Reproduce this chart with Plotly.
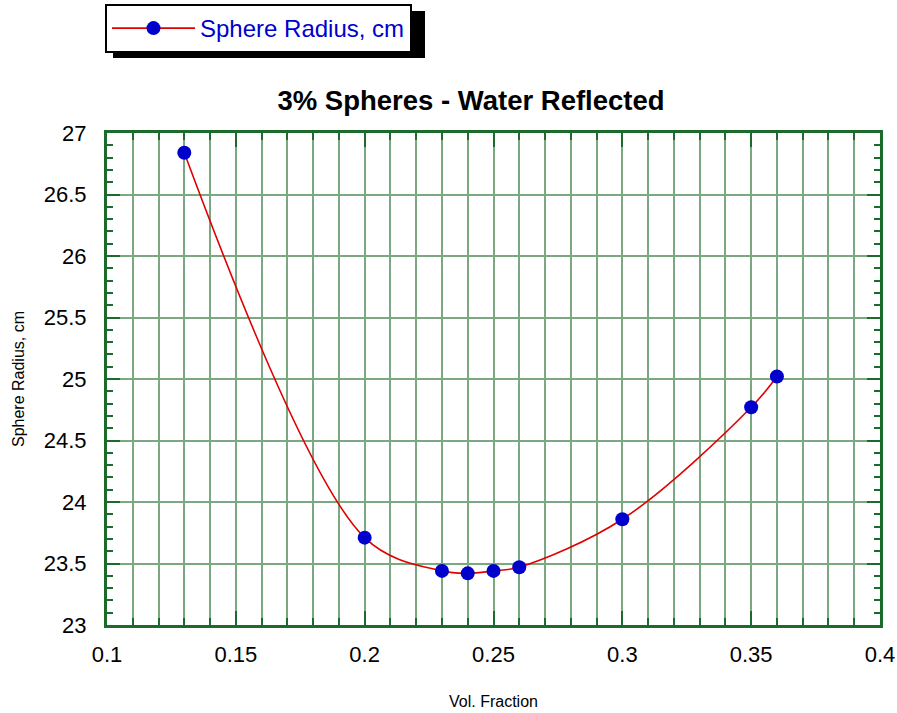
import plotly.graph_objects as go

vol_fraction = [0.13, 0.20, 0.23, 0.24, 0.25, 0.26, 0.30, 0.35, 0.36]
sphere_radius = [26.84, 23.71, 23.44, 23.42, 23.44, 23.47, 23.86, 24.77, 25.02]

series_name = "Sphere Radius, cm"
title_text = "3% Spheres - Water Reflected"
x_title = "Vol. Fraction"
y_title = "Sphere Radius, cm"

x_ticks = [0.1, 0.15, 0.2, 0.25, 0.3, 0.35, 0.4]
x_ticklabels = ["0.1", "0.15", "0.2", "0.25", "0.3", "0.35", "0.4"]
y_ticks = [23, 23.5, 24, 24.5, 25, 25.5, 26, 26.5, 27]
y_ticklabels = ["23", "23.5", "24", "24.5", "25", "25.5", "26", "26.5", "27"]

W, H = 897, 713
# plot area in page pixels: x 107..880, y 133..625
PX0, PX1, PY0, PY1 = 107, 880, 133, 625
L, R, T, B = PX0, W - PX1, PY0, H - PY1
pw, ph = PX1 - PX0, PY1 - PY0

def px_x(p):
    return (p - PX0) / pw

def px_y(p):
    return (PY1 - p) / ph

AXIS = "#1d6b2c"
GRID = "#7aa87f"
FONT = "Liberation Sans, Arial, sans-serif"

fig = go.Figure()
fig.add_trace(go.Scatter(
    x=vol_fraction, y=sphere_radius, name=series_name,
    mode="lines+markers",
    line=dict(color="#e00000", width=1.6, shape="spline", smoothing=1.0),
    marker=dict(color="#0000cc", size=14, line=dict(width=0)),
))

# legend shadow
fig.add_shape(type="rect", xref="paper", yref="paper",
              x0=px_x(113), x1=px_x(425), y0=px_y(58), y1=px_y(11),
              fillcolor="black", line=dict(width=0), layer="below")

fig.update_layout(
    width=W, height=H,
    margin=dict(l=L, r=R, t=T, b=B, pad=0, autoexpand=False),
    paper_bgcolor="white", plot_bgcolor="white",
    font=dict(family=FONT, color="black"),
    title=dict(text="<b>" + title_text + "</b>", x=471 / W, xanchor="center",
               y=1 - 100 / H, yanchor="middle", xref="container", yref="container",
               font=dict(size=27.5, family=FONT, color="black")),
    showlegend=True,
    legend=dict(x=px_x(105), y=px_y(4), xanchor="left", yanchor="top",
                bgcolor="white", bordercolor="black", borderwidth=2,
                font=dict(size=24, color="#0000cc", family=FONT),
                itemwidth=83),
    xaxis=dict(
        range=[0.1, 0.4], tickmode="array", tickvals=x_ticks, ticktext=x_ticklabels,
        ticks="inside", ticklen=14, tickwidth=2, tickcolor=AXIS,
        showline=True, linecolor=AXIS, linewidth=3, mirror="allticks",
        showgrid=True, gridcolor=GRID, gridwidth=2, zeroline=False,
        tickfont=dict(size=22, family=FONT, color="black"),
        ticklabelstandoff=8, automargin=False,
        minor=dict(dtick=0.01, tick0=0.1, ticks="inside", ticklen=7, tickwidth=2,
                   tickcolor=AXIS, showgrid=True, gridcolor=GRID, gridwidth=2),
        title=dict(text=x_title, font=dict(size=16, family=FONT, color="black"), standoff=30),
    ),
    yaxis=dict(
        range=[23, 27], tickmode="array", tickvals=y_ticks, ticktext=y_ticklabels,
        ticks="inside", ticklen=13, tickwidth=2, tickcolor=AXIS,
        showline=True, linecolor=AXIS, linewidth=3, mirror="allticks",
        showgrid=True, gridcolor=GRID, gridwidth=2, zeroline=False,
        tickfont=dict(size=22, family=FONT, color="black"),
        ticklabelstandoff=13, automargin=False,
        minor=dict(dtick=0.1, tick0=23, ticks="inside", ticklen=6, tickwidth=2,
                   tickcolor=AXIS, showgrid=False),
        title=dict(text=y_title, font=dict(size=16, family=FONT, color="black"), standoff=16),
    ),
)

fig.write_html("out.html", config={"displayModeBar": False},
               post_script="document.body.style.margin='0';document.body.style.overflow='hidden';")
